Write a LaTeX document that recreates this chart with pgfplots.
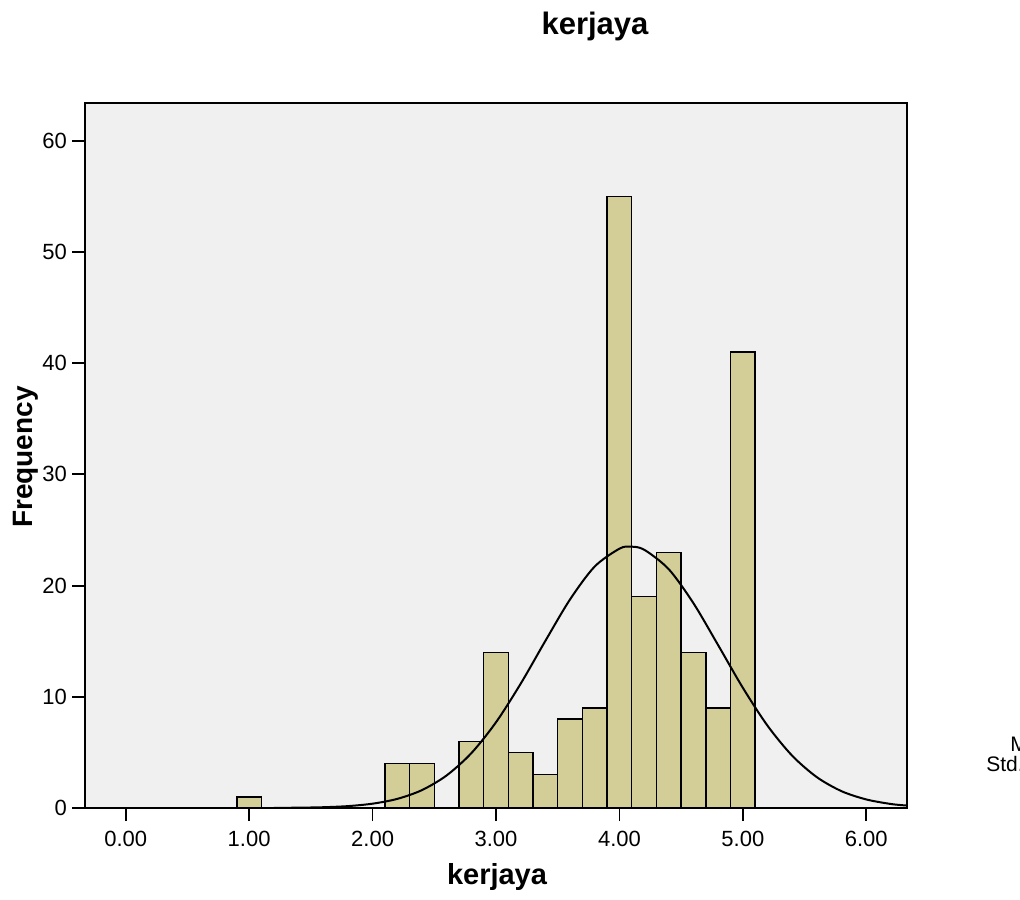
\documentclass[border=0pt]{standalone}
\usepackage{fontspec}
\setmainfont{Liberation Sans}
\usepackage{pgfplots}
\pgfplotsset{compat=1.18}
\definecolor{barfill}{RGB}{211,206,152}
\definecolor{plotbg}{RGB}{240,240,240}
\begin{document}
\begin{tikzpicture}[x=1pt,y=1pt]
\begin{axis}[
  at={(42.5pt,45.5pt)}, anchor=south west,
  width=411pt, height=352.5pt, scale only axis,
  xmin=-0.33, xmax=6.33, ymin=0, ymax=63.4,
  axis background/.style={fill=plotbg},
  axis line style={line width=0.9pt},
  xtick={0,1,2,3,4,5,6},
  xticklabels={0.00,1.00,2.00,3.00,4.00,5.00,6.00},
  ytick={0,10,20,30,40,50,60},
  tick align=outside, xtick pos=bottom, ytick pos=left,
  major tick length=6.5pt,
  tick style={line width=0.9pt, black},
  tick label style={font=\fontsize{11}{13}\selectfont},
  /pgf/number format/assume math mode=true,
  yticklabel style={xshift=1pt},
  xticklabel style={yshift=-1.5pt},
]
\addplot[ybar, bar width=0.2, bar shift=0pt, fill=barfill, draw=black, line width=0.7pt]
coordinates {(1.0,1) (2.2,4) (2.4,4) (2.8,6) (3.0,14) (3.2,5) (3.4,3) (3.6,8) (3.8,9) (4.0,55) (4.2,19) (4.4,23) (4.6,14) (4.8,9) (5.0,41)};
\addplot[black, line width=1pt, smooth, no marks]
coordinates {(1.2,0.01) (1.4,0.03) (1.6,0.07) (1.8,0.17) (2.0,0.39) (2.2,0.82) (2.4,1.61) (2.6,2.93) (2.8,4.93) (3.0,7.71) (3.2,11.18) (3.4,15.03) (3.6,18.76) (3.8,21.72) (4.0,23.32) (4.09,23.5) (4.2,23.23) (4.4,21.47) (4.6,18.41) (4.8,14.64) (5.0,10.81) (5.2,7.40) (5.4,4.70) (5.6,2.77) (5.8,1.51) (6.0,0.77) (6.2,0.36) (6.33,0.22)};
\end{axis}
\node[font=\bfseries\fontsize{15.5}{18}\selectfont] at (297.5pt,436.5pt) {kerjaya};
\node[font=\bfseries\fontsize{14.5}{17}\selectfont] at (248.5pt,11pt) {kerjaya};
\node[font=\bfseries\fontsize{14}{17}\selectfont, rotate=90] at (13pt,221pt) {Frequency};
\node[font=\fontsize{10.5}{10}\selectfont, align=center, anchor=north, inner sep=0pt] at (533pt,81.5pt) {Mean =4.09\\Std. Dev. =0.726\\N =215};
\pgfresetboundingbox
\useasboundingbox (0,0) rectangle (510pt,449.5pt);
\end{tikzpicture}
\end{document}
